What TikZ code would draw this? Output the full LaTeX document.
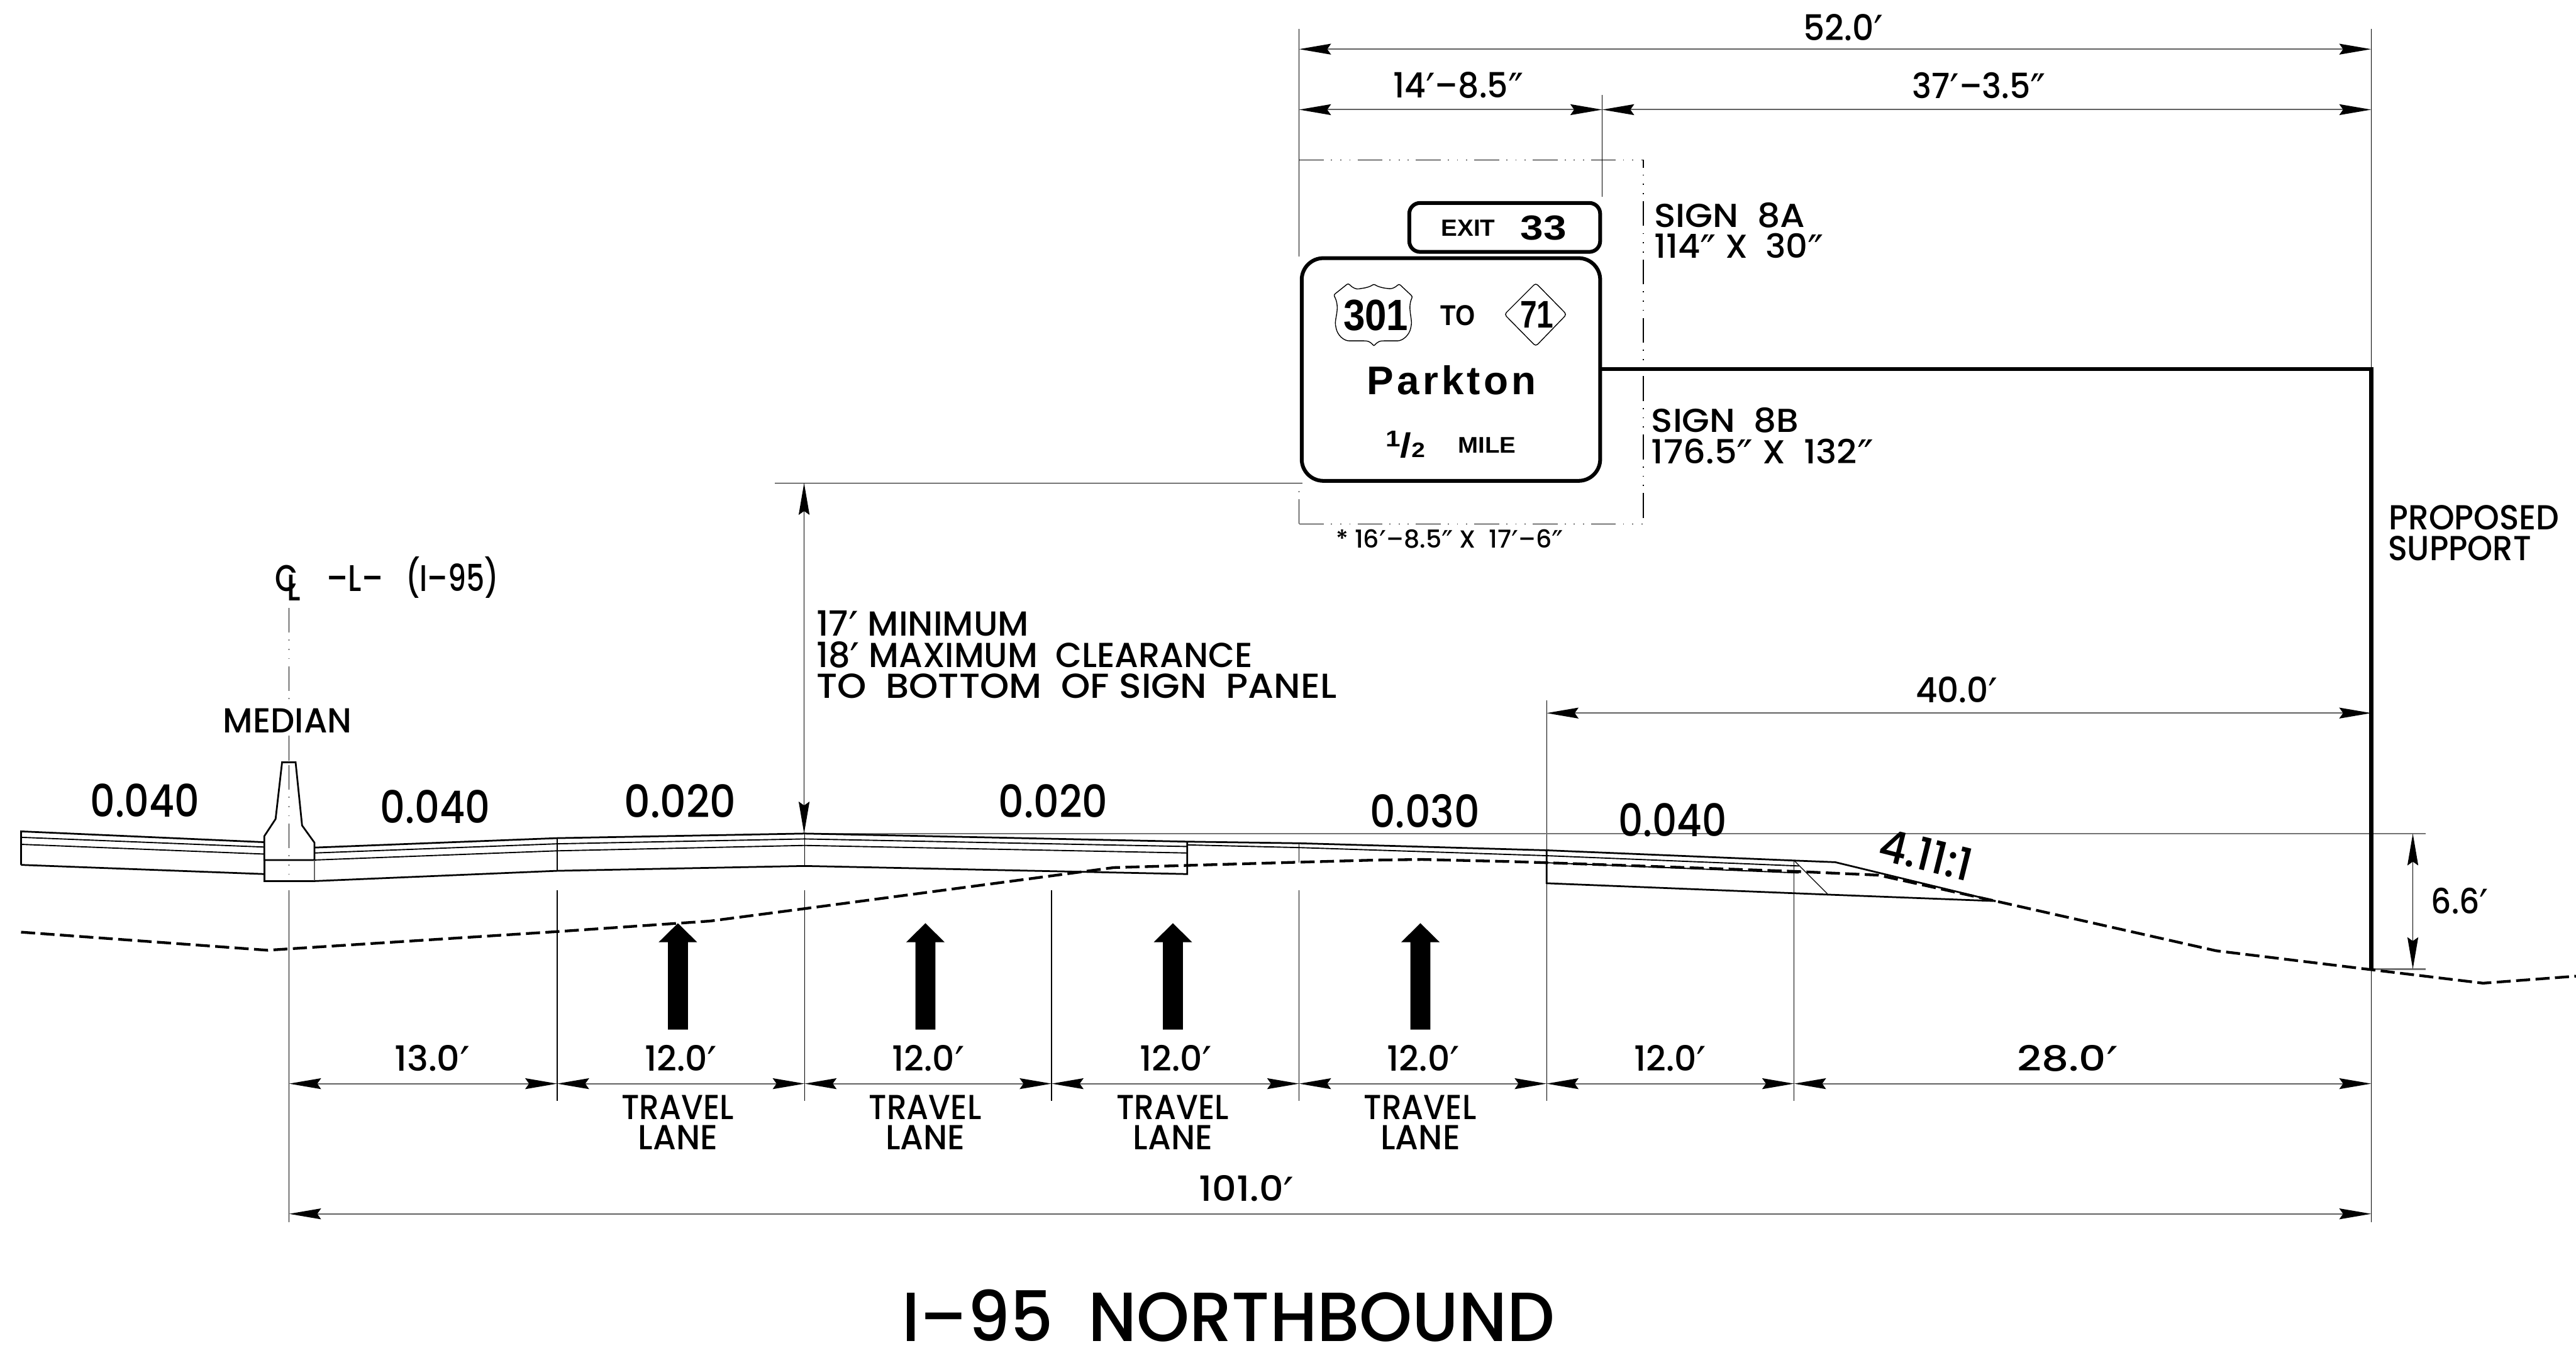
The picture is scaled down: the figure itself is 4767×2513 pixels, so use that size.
\documentclass[tikz,border=0pt]{standalone}
\usepackage{fontspec}
\usepackage{graphicx}
\usetikzlibrary{arrows.meta}
\setmainfont{Poppins Medium}
\newfontfamily\djv{DejaVu Sans}
\newfontfamily\sgn{Liberation Sans}[BoldFont={Liberation Sans Bold}]
\newcommand{\prm}{\raisebox{-0.2em}{\scalebox{1.25}{\djv ′}}}
\newcommand{\dpr}{\raisebox{-0.2em}{\scalebox{1.25}{\djv ″}}}
% width(px), cap height(px), text
\newcommand{\wbox}[3]{\fontsize{\fpeval{#2*0.2845/0.7}}{\fpeval{#2*0.2845}}\selectfont\resizebox{\fpeval{#1*0.01}cm}{\height}{#3}}
\newcommand{\signbx}[3]{\fontsize{\fpeval{#2*0.2845/0.716}}{\fpeval{#2*0.2845}}\sgn\bfseries\selectfont\resizebox{\fpeval{#1*0.01}cm}{\height}{#3}}
\tikzset{
  lab/.style={anchor=base west,inner sep=0pt,outer sep=0pt},
  thinln/.style={line width=0.015cm,black},
  dimln/.style={line width=0.022cm,black!62},
  vdimln/.style={line width=0.015cm,black},
  refln/.style={line width=0.025cm,black!55},
  roadthick/.style={line width=0.032cm,black,line join=miter},
  roadthin/.style={line width=0.022cm,black,line join=miter},
  groundln/.style={line width=0.05cm,black,dash pattern=on 0.26cm off 0.1cm,line join=round},
  phantomln/.style={line width=0.015cm,black,dash pattern=on 0.46cm off 0.13cm on 0.02cm off 0.15cm on 0.02cm off 0.15cm on 0.02cm off 0.13cm},
  signpanel/.style={draw=black,fill=white,line width=0.07cm,inner sep=0pt,outer sep=0pt},
  supportln/.style={line width=0.075cm,black,line join=miter},
  dimtip/.tip={Stealth[length=0.59cm,width=0.2cm,inset=0.07cm,color=black,sep=0pt]},
}
\newcommand{\lbl}[6]{\node[lab] (#1) at (#2,#3) {\wbox{#4}{#5}{#6}};}
\newcommand{\slbl}[6]{\node[lab] (#1) at (#2,#3) {\signbx{#4}{#5}{#6}};}
\begin{document}
\begin{tikzpicture}[x=0.01cm,y=-0.01cm]
\useasboundingbox (0,0) rectangle (4767,2513);
\fill[white] (0,0) rectangle (4767,2513);

% --- extension lines
\foreach \xx/\ya/\yb in {2404/53/475,4388/53/683,2965/176/364,535/1648/2262,4388/1795/2262,1031/1648/2038,1489/1648/2038,1946/1648/2038,2404/1648/2038,2862/1296/2038,3320/1593/2038}
  {\draw[thinln] (\xx,\ya) -- (\xx,\yb);}
\draw[thinln] (1489,1543) -- (1489,1603);
\draw[thinln] (1031,1551) -- (1031,1612);
\draw[thinln] (2404,1561) -- (2404,1597);
\draw[thinln] (1434,894) -- (2410,894);
\draw[refln] (1489,1543) -- (4489,1543);
\draw[refln] (4388,1794) -- (4489,1794);

% --- phantom sign outline
\draw[phantomln] (2404,296) -- (3041,296);
\draw[phantomln] (2404,970) -- (3041,970) -- (3041,296);
\draw[phantomln] (2404,970) -- (2404,894);

% --- centre line
\draw[phantomln] (535,1125) -- (535,1300);
\draw[thinln] (535,1362) -- (535,1408);
\draw[phantomln] (535,1416) -- (535,1626);

% --- road
\draw[roadthick] (39,1601) -- (39,1539) -- (489,1559);
\draw[roadthin] (39,1550) -- (489,1568);
\draw[roadthin] (39,1563) -- (489,1581);
\draw[roadthick] (39,1601) -- (489,1618);
% median barrier
\draw[roadthick] (489,1592) -- (489,1548) -- (510,1516) -- (522,1411) -- (547,1411) -- (559,1528) -- (582,1560) -- (582,1592) -- cycle;
\draw[roadthick] (489,1592) -- (489,1631) -- (582,1631);
\draw[thinln,black!60] (582,1592) -- (582,1631);
% inside shoulder and lanes
\draw[roadthick] (582,1569) -- (1031,1551.5) -- (1489,1543) -- (2197,1558) -- (2404,1561) -- (2862,1574) -- (3320,1593) -- (3396,1596) -- (3693,1668);
\draw[roadthin] (582,1579) -- (1031,1562) -- (1489,1553) -- (2197,1567);
\draw[roadthin] (582,1592) -- (1031,1575) -- (1489,1565) -- (2197,1579);
\draw[roadthick] (582,1631) -- (1031,1612) -- (1489,1603) -- (2197,1618) -- (2197,1558);
\draw[roadthin] (2197,1564) -- (2404,1569) -- (2862,1584) -- (3329,1603);
\draw[roadthin] (2862,1597) -- (3329,1616);
\draw[roadthick] (2862,1574) -- (2862,1635) -- (3382,1656) -- (3693,1668);
\draw[thinln] (3320,1593) -- (3382,1655);

% --- existing ground
\draw[groundln] (39,1725.5) -- (495,1759) -- (1031,1724.5) -- (1314,1705) -- (1489,1682) -- (2061,1606) -- (2197,1602) -- (2404,1596) -- (2550,1592) -- (2632,1591) -- (2800,1595) -- (2862,1597) -- (3320,1613) -- (3476,1620) -- (3693,1668) -- (4101,1760) -- (4388,1795) -- (4595,1820) -- (4767,1807);

% --- traffic arrows
\foreach \cx in {1254.5,1712.5,2170.5,2628.5}
  {\fill[black] (\cx,1709) -- (\cx+35.5,1744) -- (\cx+18.5,1744) -- (\cx+18.5,1906) -- (\cx-18.5,1906) -- (\cx-18.5,1744) -- (\cx-35.5,1744) -- cycle;}

% --- signs
\node[signpanel,rounded corners=0.2cm,minimum width=3.53cm,minimum height=0.905cm] (signA) at (2784.5,421) {};
\node[signpanel,rounded corners=0.4cm,minimum width=5.52cm,minimum height=4.12cm] (signB) at (2685,684) {};
\coordinate (supTop) at (4388,683);
\coordinate (supBase) at (4388,1795);
\draw[supportln] (signB.east |- supTop) -- (supTop) -- (supBase);

\draw[line width=0.016cm,black,rounded corners=0.03cm] (2495,524.5) .. controls (2503,533) and (2510,536) .. (2518,534) .. controls (2528,533) and (2537,530) .. (2542.5,525.5) .. controls (2548,530) and (2558,533) .. (2568,534) .. controls (2576,535) and (2582,532) .. (2589,525.5) -- (2614,549) .. controls (2604,570) and (2614,590) .. (2611,605) .. controls (2608,620) and (2596,631) .. (2583,631) -- (2558,631) .. controls (2551,632) and (2546,636) .. (2542.5,641) .. controls (2539,636) and (2534,632) .. (2527,631) -- (2500,631) .. controls (2486,631) and (2475,620) .. (2472,605) .. controls (2469,590) and (2481,570) .. (2468,546) -- cycle;
\draw[line width=0.016cm,black,rounded corners=0.05cm] (2842,524) -- (2899,582) -- (2842,641) -- (2784,582) -- cycle;

\slbl{exitword}{2667}{437}{100}{31}{EXIT}
\slbl{exitnum}{2814}{444}{85}{46}{33}
\slbl{usnum}{2486}{612}{120}{58}{301}
\slbl{toword}{2666}{602}{64}{38}{TO}
\slbl{ncnum}{2813}{607}{62}{51}{71}
\slbl{parkton}{2530}{730}{312}{53}{\addfontfeature{LetterSpace=8}Parkton}
\node[lab] (half) at (2564,847) {\signbx{73}{30}{\raisebox{5.7pt}{\fontsize{12pt}{12pt}\selectfont 1}{\fontsize{18pt}{18pt}\selectfont /}{\fontsize{11pt}{11pt}\selectfont 2}}};
\slbl{mile}{2698}{838}{107}{30}{MILE}

% --- dimension lines
\draw[dimln,dimtip-dimtip] (2404,91) -- (4388,91);
\draw[dimln,dimtip-dimtip] (2404,203) -- (2965,203);
\draw[dimln,dimtip-dimtip] (2965,203) -- (4388,203);
\draw[dimln,dimtip-dimtip] (2862,1320) -- (4388,1320);
\foreach \xa/\xb in {535/1031,1031/1489,1489/1946,1946/2404,2404/2862,2862/3320,3320/4388}
  {\draw[dimln,dimtip-dimtip] (\xa,2006) -- (\xb,2006);}
\draw[dimln,dimtip-dimtip] (535,2247) -- (4388,2247);
\draw[vdimln,dimtip-dimtip] (4465,1543) -- (4465,1794);
\draw[vdimln,dimtip-dimtip] (1488,1543) -- (1488,894);

% --- dimension text
\lbl{dimA}{3337}{75}{148}{46}{52.0\prm}
\lbl{dimB}{2578}{181}{241}{45}{14\prm–8.5\dpr}
\lbl{dimC}{3538}{182}{248}{45}{37\prm–3.5\dpr}
\lbl{dimD}{3545}{1300}{152}{45}{40.0\prm}
\lbl{dimE}{4499}{1692}{106}{45}{6.6\prm}
\lbl{dimF}{730}{1983}{140}{45}{13.0\prm}
\lbl{dimG}{1193}{1983}{134}{45}{12.0\prm}
\lbl{dimH}{1651}{1983}{134}{45}{12.0\prm}
\lbl{dimI}{2109}{1983}{134}{45}{12.0\prm}
\lbl{dimJ}{2567}{1983}{134}{45}{12.0\prm}
\lbl{dimK}{3024}{1983}{134}{45}{12.0\prm}
\lbl{dimL}{3733}{1983}{187}{45}{28.0\prm}
\lbl{dimM}{2219}{2224}{176}{45}{101.0\prm}

% --- lane text
\foreach \nn/\cx in {a/1254,b/1712,c/2170,d/2628}{
  \lbl{tr\nn}{\cx-104}{2072}{208}{45}{TRAVEL}
  \lbl{ln\nn}{\cx-73}{2128}{147}{45}{LANE}
}

% --- slopes
\lbl{slA}{167}{1512}{202}{58}{0.040}
\lbl{slB}{704}{1524}{203}{58}{0.040}
\lbl{slC}{1155}{1513}{207}{58}{0.020}
\lbl{slD}{1848}{1514}{202}{58}{0.020}
\lbl{slE}{2535}{1532}{203}{58}{0.030}
\lbl{slF}{2995}{1548}{200}{58}{0.040}
\node[inner sep=0pt,outer sep=0pt,rotate=-14] (slG) at (3564,1582) {\wbox{175}{58}{4.11:1}};

% --- notes
\lbl{sa1}{3061}{421}{279}{43}{SIGN~~8A}
\lbl{sa2}{3061}{478}{314}{43}{114\dpr{} X~ 30\dpr}
\lbl{sb1}{3056}{800}{273}{43}{SIGN~~8B}
\lbl{sb2}{3056}{858}{411}{43}{176.5\dpr{} X~ 132\dpr}
\lbl{star}{2472}{1014}{421}{32}{* 16\prm–8.5\dpr{} X~ 17\prm–6\dpr}
\lbl{prop1}{4421}{980}{315}{45}{PROPOSED}
\lbl{prop2}{4419}{1037}{265}{45}{SUPPORT}
\lbl{clr1}{1511}{1177}{393}{45}{17\prm{} MINIMUM}
\lbl{clr2}{1511}{1235}{807}{45}{18\prm{} MAXIMUM~~CLEARANCE}
\lbl{clr3}{1511}{1292}{962}{45}{TO~~BOTTOM~~OF SIGN~~PANEL}
\node[lab,fill=white] (median) at (413,1357) {\wbox{238}{45}{MEDIAN}};
\lbl{clC}{509}{1094}{42}{48}{C}
\lbl{clL}{531}{1112}{25}{48}{L}
\lbl{clM}{605}{1094}{104}{48}{–L–}
\lbl{clN}{751}{1094}{172}{48}{(I–95)}
\lbl{title}{1669}{2483}{1208}{90}{I–95~~NORTHBOUND}
\end{tikzpicture}
\end{document}
